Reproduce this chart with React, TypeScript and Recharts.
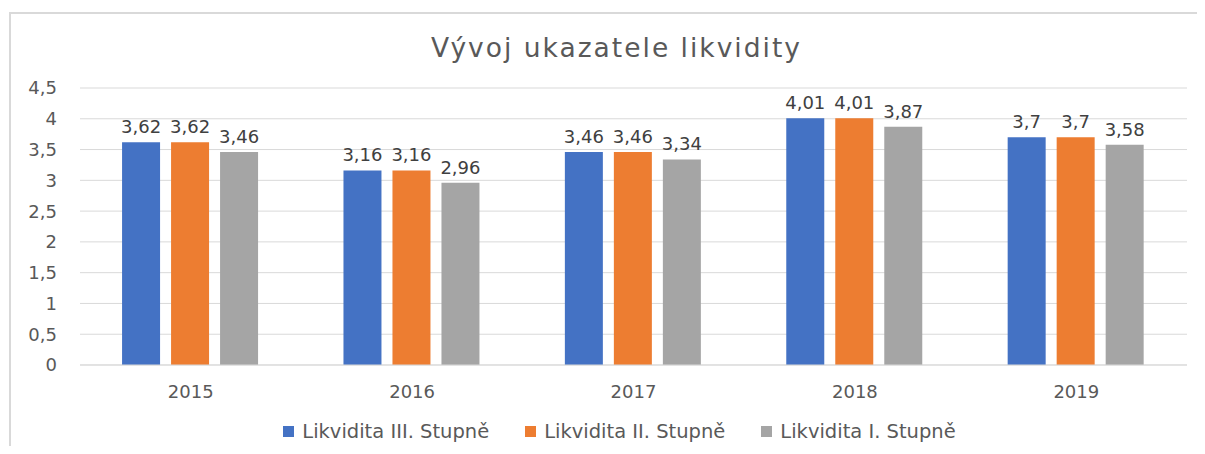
import { BarChart, Bar, XAxis, YAxis, CartesianGrid, Legend, LabelList } from 'recharts'

const YEARS = ['2015', '2016', '2017', '2018', '2019']
const LIKVIDITA_III = [3.62, 3.16, 3.46, 4.01, 3.7]
const LIKVIDITA_II = [3.62, 3.16, 3.46, 4.01, 3.7]
const LIKVIDITA_I = [3.46, 2.96, 3.34, 3.87, 3.58]
const Y_TICKS = [0, 0.5, 1, 1.5, 2, 2.5, 3, 3.5, 4, 4.5]

const SERIES = [
  { key: 'l3', name: 'Likvidita III. Stupně', color: '#4472C4' },
  { key: 'l2', name: 'Likvidita II. Stupně', color: '#ED7D31' },
  { key: 'l1', name: 'Likvidita I. Stupně', color: '#A5A5A5' },
]

const data = YEARS.map((year, i) => ({
  year,
  l3: LIKVIDITA_III[i],
  l2: LIKVIDITA_II[i],
  l1: LIKVIDITA_I[i],
}))

const FONT = '"DejaVu Sans", sans-serif'
const fmt = (v: any) => String(v).replace('.', ',')

function LegendRow() {
  return (
    <div style={{ display: 'flex', justifyContent: 'center', gap: 36, paddingLeft: 44, paddingTop: 5 }}>
      {SERIES.map((s) => (
        <div key={s.key} style={{ display: 'flex', alignItems: 'center', gap: 8 }}>
          <span style={{ width: 11, height: 11, background: s.color, display: 'inline-block' }} />
          <span style={{ fontFamily: FONT, fontSize: 19.5, color: '#595959' }}>{s.name}</span>
        </div>
      ))}
    </div>
  )
}

export default function App() {
  return (
    <div style={{ position: 'relative', width: 1197, height: 438, overflow: 'hidden' }}>
      {/* frame: only the left and top edges show in the picture */}
      <div style={{ position: 'absolute', left: 1, top: 4, width: 2, height: 434, background: '#d9d9d9' }} />
      <div style={{ position: 'absolute', left: 1, top: 4, width: 1196, height: 2, background: '#d9d9d9' }} />
      <div
        style={{
          position: 'absolute',
          top: 24,
          left: 0,
          width: 1197,
          textAlign: 'center',
          fontFamily: FONT,
          fontSize: 26.5,
          letterSpacing: 2,
          color: '#595959',
          paddingLeft: 10,
        }}
      >
        Vývoj ukazatele likvidity
      </div>
      <div style={{ position: 'absolute', left: 0, top: 0 }}>
        <BarChart
          width={1197}
          height={438}
          data={data}
          margin={{ top: 80, right: 18, left: 0, bottom: 0 }}
          barGap={11}
          barCategoryGap="19%"
        >
          <CartesianGrid vertical={false} stroke="#d9d9d9" />
          <XAxis
            dataKey="year"
            height={50}
            tickSize={0}
            tickMargin={20}
            axisLine={{ stroke: '#d9d9d9' }}
            tick={{ fontFamily: FONT, fontSize: 18, fill: '#595959' }}
          />
          <YAxis
            width={72}
            domain={[0, 4.5]}
            ticks={Y_TICKS}
            tickSize={0}
            tickMargin={23}
            axisLine={false}
            tickLine={false}
            tickFormatter={fmt}
            tick={{ fontFamily: FONT, fontSize: 18, fill: '#595959' }}
          />
          <Legend verticalAlign="bottom" height={31} content={() => <LegendRow />} />
          {SERIES.map((s) => (
            <Bar key={s.key} dataKey={s.key} name={s.name} fill={s.color} isAnimationActive={false}>
              <LabelList
                dataKey={s.key}
                position="top"
                offset={9}
                formatter={fmt}
                style={{ fontFamily: FONT, fontSize: 18, fill: '#404040' }}
              />
            </Bar>
          ))}
        </BarChart>
      </div>
    </div>
  )
}
